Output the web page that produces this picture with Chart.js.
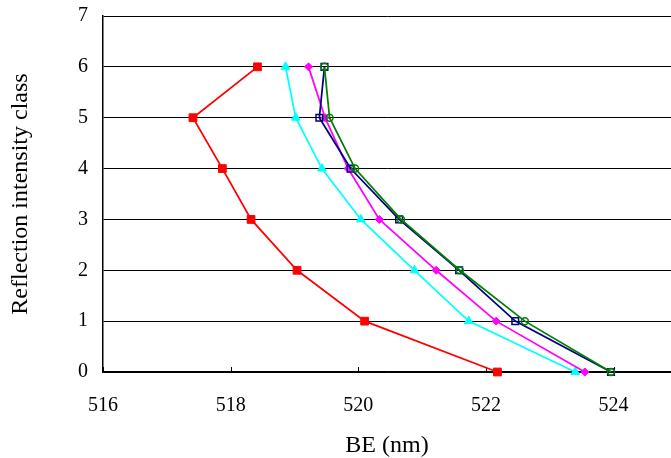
<!DOCTYPE html>
<html>
<head>
<meta charset="utf-8">
<title>BE vs reflection intensity class</title>
<script src="https://cdn.jsdelivr.net/npm/chart.js@4.4.0/dist/chart.umd.min.js"></script>
<style>
  html, body { margin: 0; padding: 0; background: #fff; overflow: hidden; }
  #wrap { width: 671px; height: 458px; }
</style>
</head>
<body>
<div id="wrap"><canvas id="beChart" width="671" height="458"></canvas></div>
<script>
// intensity classes, top to bottom
const classes = [6, 5, 4, 3, 2, 1, 0];

// BE (nm) for each class, one array per curve
const redBE     = [518.42, 517.41, 517.87, 518.32, 519.04, 520.10, 522.18];
const cyanBE    = [518.86, 519.02, 519.43, 520.04, 520.88, 521.73, 523.40];
const magentaBE = [519.22, 519.48, 519.84, 520.33, 521.22, 522.16, 523.55];
const navyBE    = [519.47, 519.39, 519.88, 520.64, 521.58, 522.46, 523.96];
const greenBE   = [519.47, 519.55, 519.95, 520.67, 521.59, 522.61, 523.96];

const xTicks = [516, 518, 520, 522, 524];
const yTicks = [0, 1, 2, 3, 4, 5, 6, 7];

const FONT = "'Liberation Serif', 'Times New Roman', serif";

function points(be) {
  return be.map((x, i) => ({ x: x, y: classes[i] }));
}

function series(be, color, style, radius, filled, order) {
  return {
    data: points(be),
    borderColor: color,
    backgroundColor: filled ? color : "rgba(0,0,0,0)",
    pointBorderColor: color,
    pointBackgroundColor: filled ? color : "rgba(0,0,0,0)",
    pointStyle: style,
    pointRadius: radius,
    pointBorderWidth: filled ? 1 : 1.5,
    borderWidth: 1.75,
    tension: 0,
    fill: false,
    clip: false,
    order: order
  };
}

// small inward tick marks on the BE axis
const innerTicks = {
  id: "innerTicks",
  beforeDatasetsDraw(chart) {
    const x = chart.scales.x;
    const ctx = chart.ctx;
    ctx.save();
    ctx.strokeStyle = "#000";
    ctx.lineWidth = 1;
    ctx.beginPath();
    xTicks.forEach(v => {
      const px = Math.round(x.getPixelForValue(v)) + 0.5;
      ctx.moveTo(px, x.top);
      ctx.lineTo(px, x.top - 5);
    });
    ctx.stroke();
    ctx.restore();
  }
};

new Chart(document.getElementById("beChart").getContext("2d"), {
  type: "line",
  data: {
    datasets: [
      series(redBE, "#FF0000", "rect", 5.5, true, 5),
      series(cyanBE, "#00FFFF", "triangle", 5, true, 4),
      series(magentaBE, "#FF00FF", "rectRot", 4, true, 3),
      series(navyBE, "#000080", "rect", 4.7, false, 2),
      series(greenBE, "#008000", "circle", 3.5, false, 1)
    ]
  },
  options: {
    responsive: false,
    animation: false,
    layout: { autoPadding: false, padding: { top: 16, right: 0, left: 0, bottom: 0 } },
    plugins: {
      legend: { display: false },
      tooltip: { enabled: false }
    },
    scales: {
      x: {
        type: "linear",
        min: 516,
        max: 524.9,
        afterBuildTicks: scale => { scale.ticks = xTicks.map(v => ({ value: v })); },
        afterFit: scale => {
          scale.height = 86;
          scale.paddingLeft = 0;
          scale.paddingRight = 0;
        },
        grid: { display: false, drawTicks: false },
        border: { display: true, color: "#000", width: 1.5 },
        ticks: {
          padding: 22,
          color: "#000",
          font: { family: FONT, size: 20 }
        },
        title: {
          display: true,
          text: "BE (nm)",
          color: "#000",
          font: { family: FONT, size: 24 },
          padding: { top: 0, bottom: -2 }
        }
      },
      y: {
        type: "linear",
        min: 0,
        max: 7,
        afterBuildTicks: scale => { scale.ticks = yTicks.map(v => ({ value: v })); },
        afterFit: scale => {
          scale.width = 103;
          scale.paddingTop = 0;
          scale.paddingBottom = 0;
        },
        grid: { color: "#000", lineWidth: 1, drawTicks: false },
        border: { display: true, color: "#000", width: 1.5 },
        ticks: {
          padding: 15,
          color: "#000",
          font: { family: FONT, size: 20 }
        },
        title: {
          display: true,
          text: "Reflection intensity class",
          color: "#000",
          font: { family: FONT, size: 24 },
          padding: { top: 6, bottom: 0 }
        }
      }
    }
  },
  plugins: [innerTicks]
});
</script>
</body>
</html>
